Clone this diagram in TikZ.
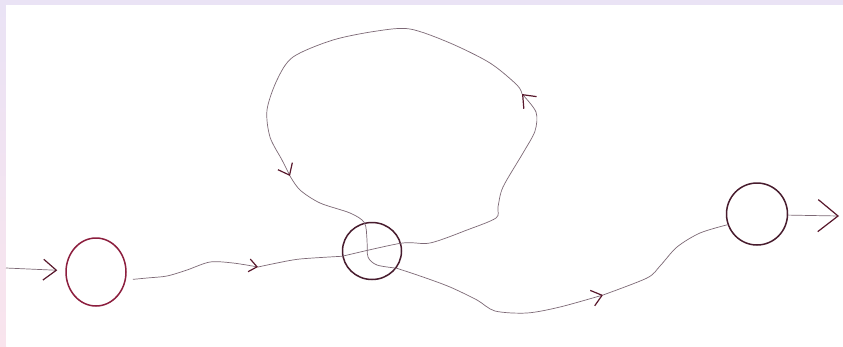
\documentclass[tikz,border=0pt]{standalone}
\usepackage{xcolor}
\definecolor{lavbg}{RGB}{234,227,245}
\definecolor{pinkbg}{RGB}{249,228,237}
\definecolor{inkline}{RGB}{125,105,118}
\definecolor{inkring}{RGB}{72,28,46}
\definecolor{inkred}{RGB}{140,30,62}
\definecolor{inktip}{RGB}{88,24,44}
\usetikzlibrary{arrows.meta, shapes.geometric}

\begin{document}
\begin{tikzpicture}[
  x=1pt, y=-1pt,
  state/.style={draw=inkring, ellipse, line width=1.5pt, inner sep=0pt},
  wire/.style={draw=inkline, line width=0.7pt},
  barb/.style={-{Straight Barb[length=#1, width=1.6*#1, line width=1.2pt, color=inktip]}},
  barb/.default=9pt,
]
% Background with the paper edge
\fill[lavbg] (0,0) rectangle (843,346);
\shade[top color=lavbg, bottom color=pinkbg] (0,5) rectangle (6,346);
\fill[white] (6,5) rectangle (843,346);

% States
\node[state, draw=inkred, minimum width=60pt, minimum height=68pt] (c1) at (96,272) {};
\node[state, minimum width=59pt, minimum height=57pt] (c2) at (372,251) {};
\node[state, minimum width=61pt, minimum height=62pt] (c3) at (757,214) {};

% Free ends and arrow points
\coordinate (in) at (6,268);
\coordinate (out) at (839,216);
\coordinate (t1) at (258,267);
\coordinate (t2) at (522,94);
\coordinate (t3) at (290,176);
\coordinate (t4) at (603,295);

% Input and output
\draw[wire, barb=13pt, shorten >=8pt] (in) -- (c1);
\draw[wire, barb=20pt] (c3.-2) -- (out);

% c1 to c2
\draw[wire, barb=8pt, shorten <=7pt] plot[smooth] coordinates
  {(c1.-15) (147,278) (167,276) (187,270) (210,262) (233,263) (t1)};
\draw[wire] plot[smooth] coordinates {(t1) (277,263) (300,259) (c2.190)};

% Loop on c2
\draw[wire, barb=11pt] plot[smooth] coordinates
  {(c2.190) (c2.15) (430,243) (467,230) (496,218) (498,207) (503,187)
   (523,153) (535,131) (536,112) (t2)};
\draw[wire, barb=10pt] plot[smooth] coordinates
  {(t2) (517,85) (490,63) (450,43) (410,29) (377,31) (333,40) (293,57)
   (277,80) (267,110) (270,137) (282,160) (t3)};
\draw[wire] plot[smooth] coordinates
  {(t3) (300,190) (320,203) (350,213) (c2.105) (367,240) (368,257)
   (377,265) (c2.-35)};

% c2 to c3
\draw[wire, barb=10pt] plot[smooth] coordinates
  {(c2.-35) (423,277) (450,287) (477,300) (495,311) (527,313) (560,307) (t4)};
\draw[wire] plot[smooth] coordinates
  {(t4) (647,278) (660,266) (677,247) (700,233) (c3.200)};
\end{tikzpicture}
\end{document}
